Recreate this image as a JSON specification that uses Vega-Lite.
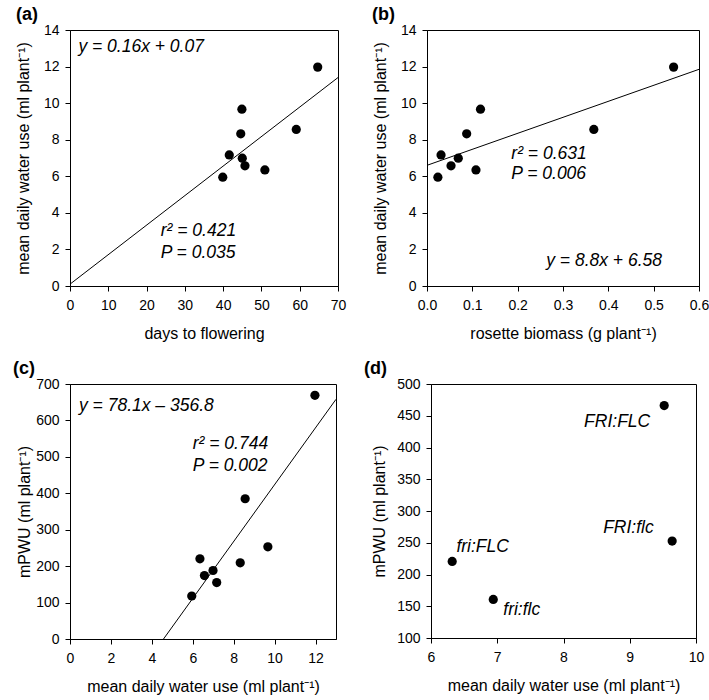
{
  "$schema": "https://vega.github.io/schema/vega-lite/v6.json",
  "padding": {"left": 12, "top": 5, "right": 5, "bottom": 5},
  "background": "white",
  "spacing": 17,
  "datasets": {
    "a": [
      {"days": 64.7, "wu": 11.97},
      {"days": 44.9, "wu": 9.67},
      {"days": 59.1, "wu": 8.56},
      {"days": 44.6, "wu": 8.32},
      {"days": 41.6, "wu": 7.17},
      {"days": 45.0, "wu": 6.99},
      {"days": 45.7, "wu": 6.57},
      {"days": 50.9, "wu": 6.35},
      {"days": 39.9, "wu": 5.95}
    ],
    "b": [
      {"biomass": 0.544, "wu": 11.97},
      {"biomass": 0.118, "wu": 9.67},
      {"biomass": 0.368, "wu": 8.56},
      {"biomass": 0.0875, "wu": 8.32},
      {"biomass": 0.031, "wu": 7.17},
      {"biomass": 0.069, "wu": 6.99},
      {"biomass": 0.053, "wu": 6.57},
      {"biomass": 0.108, "wu": 6.35},
      {"biomass": 0.024, "wu": 5.95}
    ],
    "c": [
      {"wu": 11.97, "mpwu": 669},
      {"wu": 9.67, "mpwu": 253},
      {"wu": 8.56, "mpwu": 385},
      {"wu": 8.32, "mpwu": 209},
      {"wu": 7.17, "mpwu": 155},
      {"wu": 6.99, "mpwu": 188},
      {"wu": 6.57, "mpwu": 174},
      {"wu": 6.35, "mpwu": 220},
      {"wu": 5.95, "mpwu": 118}
    ],
    "d": [
      {"g": "FRI:FLC", "wu": 9.52, "mpwu": 466},
      {"g": "FRI:flc", "wu": 9.64, "mpwu": 252.6},
      {"g": "fri:FLC", "wu": 6.32, "mpwu": 220.6},
      {"g": "fri:flc", "wu": 6.94, "mpwu": 160.8}
    ],
    "dLabels": [
      {"t": "FRI:FLC", "wu": 8.81, "mpwu": 440},
      {"t": "FRI:flc", "wu": 8.98, "mpwu": 273},
      {"t": "fri:FLC", "wu": 6.78, "mpwu": 243},
      {"t": "fri:flc", "wu": 7.37, "mpwu": 143.5}
    ],
    "lineA": [{"days": 0, "wu": 0.1}, {"days": 70, "wu": 11.4}],
    "lineB": [{"biomass": 0, "wu": 6.6}, {"biomass": 0.6, "wu": 11.85}],
    "lineC": [{"wu": 4.57, "mpwu": 0}, {"wu": 13, "mpwu": 658}],
    "textA": [
      {"days": 2.2, "wu": 13.05, "t": "y = 0.16x + 0.07"},
      {"days": 23.7, "wu": 3.0, "t": "r² = 0.421"},
      {"days": 23.7, "wu": 1.8, "t": "P = 0.035"}
    ],
    "textB": [
      {"biomass": 0.186, "wu": 7.21, "t": "r² = 0.631"},
      {"biomass": 0.186, "wu": 6.11, "t": "P = 0.006"},
      {"biomass": 0.263, "wu": 1.37, "t": "y = 8.8x + 6.58"}
    ],
    "textC": [
      {"wu": 0.44, "mpwu": 640, "t": "y = 78.1x – 356.8"},
      {"wu": 6.0, "mpwu": 535, "t": "r² = 0.744"},
      {"wu": 6.0, "mpwu": 476, "t": "P = 0.002"}
    ]
  },
  "vconcat": [
    {
      "spacing": 24,
      "hconcat": [
        {
          "width": 268, "height": 256,
          "title": {"text": "(a)", "dx": -54},
          "encoding": {
            "x": {"field": "days", "type": "quantitative", "title": "days to flowering", "scale": {"domain": [0, 70], "nice": false}, "axis": {"values": [0, 10, 20, 30, 40, 50, 60, 70], "labelOverlap": false}},
            "y": {"field": "wu", "type": "quantitative", "title": "mean daily water use (ml plant⁻¹)", "scale": {"domain": [0, 14], "nice": false}, "axis": {"values": [0, 2, 4, 6, 8, 10, 12, 14], "labelOverlap": false, "titlePadding": 12}}
          },
          "layer": [
            {"data": {"name": "a"}, "mark": {"type": "point", "filled": true, "size": 85, "color": "black", "opacity": 1}},
            {"data": {"name": "lineA"}, "mark": {"type": "line", "color": "black", "strokeWidth": 1}},
            {"data": {"name": "textA"}, "mark": {"type": "text", "align": "left", "baseline": "middle", "fontStyle": "italic", "fontSize": 17.5, "color": "black"}, "encoding": {"text": {"field": "t"}}}
          ]
        },
        {
          "width": 272, "height": 256,
          "title": {"text": "(b)", "dx": -55},
          "encoding": {
            "x": {"field": "biomass", "type": "quantitative", "title": "rosette biomass (g plant⁻¹)", "scale": {"domain": [0, 0.6], "nice": false}, "axis": {"values": [0, 0.1, 0.2, 0.3, 0.4, 0.5, 0.6], "format": ".1f", "labelOverlap": false}},
            "y": {"field": "wu", "type": "quantitative", "title": "mean daily water use (ml plant⁻¹)", "scale": {"domain": [0, 14], "nice": false}, "axis": {"values": [0, 2, 4, 6, 8, 10, 12, 14], "labelOverlap": false, "titlePadding": 12}}
          },
          "layer": [
            {"data": {"name": "b"}, "mark": {"type": "point", "filled": true, "size": 85, "color": "black", "opacity": 1}},
            {"data": {"name": "lineB"}, "mark": {"type": "line", "color": "black", "strokeWidth": 1}},
            {"data": {"name": "textB"}, "mark": {"type": "text", "align": "left", "baseline": "middle", "fontStyle": "italic", "fontSize": 17.5, "color": "black"}, "encoding": {"text": {"field": "t"}}}
          ]
        }
      ]
    },
    {
      "spacing": 24,
      "hconcat": [
        {
          "width": 266, "height": 255,
          "title": {"text": "(c)", "dx": -57},
          "encoding": {
            "x": {"field": "wu", "type": "quantitative", "title": "mean daily water use (ml plant⁻¹)", "scale": {"domain": [0, 13], "nice": false}, "axis": {"values": [0, 2, 4, 6, 8, 10, 12], "labelOverlap": false}},
            "y": {"field": "mpwu", "type": "quantitative", "title": "mPWU (ml plant⁻¹)", "scale": {"domain": [0, 700], "nice": false}, "axis": {"values": [0, 100, 200, 300, 400, 500, 600, 700], "labelOverlap": false, "titlePadding": 3}}
          },
          "layer": [
            {"data": {"name": "c"}, "mark": {"type": "point", "filled": true, "size": 85, "color": "black", "opacity": 1}},
            {"data": {"name": "lineC"}, "mark": {"type": "line", "color": "black", "strokeWidth": 1}},
            {"data": {"name": "textC"}, "mark": {"type": "text", "align": "left", "baseline": "middle", "fontStyle": "italic", "fontSize": 17.5, "color": "black"}, "encoding": {"text": {"field": "t"}}}
          ]
        },
        {
          "width": 265, "height": 254,
          "title": {"text": "(d)", "dx": -67},
          "encoding": {
            "x": {"field": "wu", "type": "quantitative", "title": "mean daily water use (ml plant⁻¹)", "scale": {"domain": [6, 10], "nice": false, "zero": false}, "axis": {"values": [6, 7, 8, 9, 10], "labelOverlap": false}},
            "y": {"field": "mpwu", "type": "quantitative", "title": "mPWU (ml plant⁻¹)", "scale": {"domain": [100, 500], "nice": false, "zero": false}, "axis": {"values": [100, 150, 200, 250, 300, 350, 400, 450, 500], "labelOverlap": false, "titlePadding": 9}}
          },
          "layer": [
            {"data": {"name": "d"}, "mark": {"type": "point", "filled": true, "size": 85, "color": "black", "opacity": 1}},
            {"data": {"name": "dLabels"}, "mark": {"type": "text", "align": "center", "baseline": "middle", "fontStyle": "italic", "fontSize": 17.5, "color": "black"}, "encoding": {"text": {"field": "t"}}}
          ]
        }
      ]
    }
  ],
  "config": {
    "font": "Liberation Sans",
    "view": {"stroke": "black", "strokeWidth": 1},
    "axis": {
      "grid": false, "domainColor": "black", "domainWidth": 1, "tickColor": "black", "tickWidth": 1, "tickSize": 5,
      "labelColor": "black", "titleColor": "black", "labelFont": "Liberation Sans", "titleFont": "Liberation Sans",
      "labelFontSize": 14, "titleFontSize": 16, "titleFontWeight": "normal", "labelFlush": false, "labelOverlap": false
    },
    "axisX": {"titlePadding": 13, "labelPadding": 7},
    "axisY": {"labelPadding": 6},
    "title": {"anchor": "start", "frame": "group", "fontSize": 18, "fontWeight": "bold", "font": "Liberation Sans", "color": "black", "baseline": "alphabetic", "offset": -1}
  }
}
